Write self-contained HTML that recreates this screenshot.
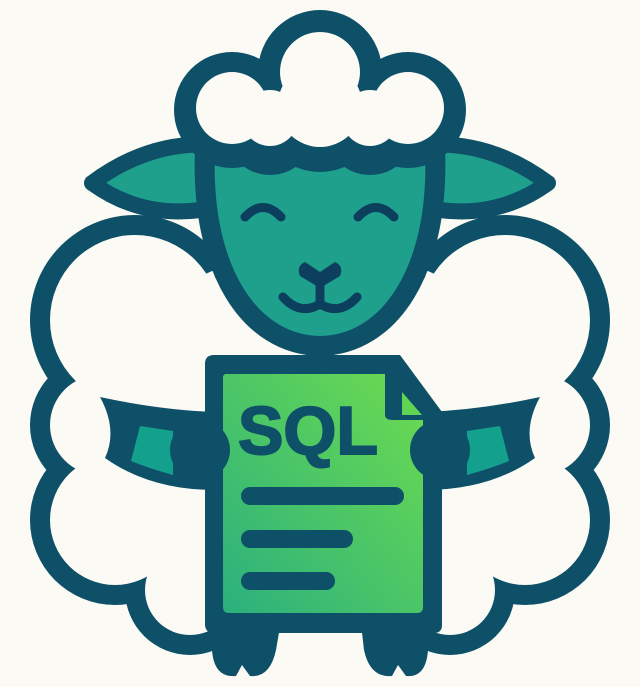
<!DOCTYPE html>
<html><head><style>html,body{margin:0;padding:0;background:#fbfaf5;}svg{display:block}</style></head>
<body>
<svg width="640" height="687" viewBox="0 0 640 687" xmlns="http://www.w3.org/2000/svg">
<defs>
<linearGradient id="g" x1="1" y1="0" x2="0" y2="1">
<stop offset="0" stop-color="#6ddc4f"/><stop offset="1" stop-color="#2bb07e"/></linearGradient>
</defs>
<rect width="640" height="687" fill="#fbfaf5"/>
<!-- legs -->
<g fill="#0e5068">
<path d="M212,615 L282,615 L276,650 Q270,678 250,676 L242,665 L236,676 Q214,678 212,650 Z"/>
<path d="M360,615 L430,615 L428,650 Q426,678 406,676 L398,665 L392,676 Q370,678 364,650 Z"/>
</g>
<!-- body cloud -->
<g fill="#0e5068">
<circle cx="135" cy="320" r="105"/><circle cx="100" cy="425" r="70"/><circle cx="115" cy="520" r="85"/><circle cx="190" cy="590" r="65"/>
<circle cx="505" cy="320" r="105"/><circle cx="540" cy="425" r="70"/><circle cx="525" cy="520" r="85"/><circle cx="450" cy="590" r="65"/>
<ellipse cx="320" cy="430" rx="250" ry="200"/>
</g>
<g fill="#fbfaf5">
<circle cx="135" cy="320" r="85"/><circle cx="100" cy="425" r="50"/><circle cx="115" cy="520" r="65"/><circle cx="190" cy="590" r="45"/>
<circle cx="505" cy="320" r="85"/><circle cx="540" cy="425" r="50"/><circle cx="525" cy="520" r="65"/><circle cx="450" cy="590" r="45"/>
<ellipse cx="320" cy="430" rx="230" ry="180"/>
</g>
<!-- ears -->
<path d="M92,183 Q150,140 215,145 L225,205 Q150,225 92,183 Z" fill="#1fa08c" stroke="#0e5068" stroke-width="16" stroke-linejoin="round"/>
<path d="M548,183 Q490,140 425,145 L415,205 Q490,225 548,183 Z" fill="#1fa08c" stroke="#0e5068" stroke-width="16" stroke-linejoin="round"/>
<!-- face -->
<path d="M205,150 C200,270 250,345 320,346 C390,345 440,270 435,150 Z" fill="#1fa08c" stroke="#0e5068" stroke-width="20" stroke-linejoin="round"/>
<!-- head wool -->
<g fill="#0e5068">
<circle cx="232" cy="110" r="58"/><circle cx="320" cy="72" r="62"/><circle cx="408" cy="110" r="58"/><circle cx="320" cy="110" r="62"/>
<circle cx="270" cy="130" r="45"/><circle cx="370" cy="130" r="45"/>
</g>
<g fill="#fbfaf5">
<circle cx="232" cy="108" r="36"/><circle cx="320" cy="72" r="40"/><circle cx="408" cy="108" r="36"/><circle cx="320" cy="105" r="42"/>
<circle cx="270" cy="118" r="28"/><circle cx="370" cy="118" r="28"/>
</g>
<!-- features -->
<g fill="none" stroke="#0c3f5e" stroke-width="9" stroke-linecap="round">
<path d="M245,217 Q263,198 281,217"/><path d="M358,217 Q376,198 394,217"/>
<path d="M283,297 Q300,316 320,304 Q340,316 357,297"/>
<path d="M320,280 L320,304"/>
</g>
<path d="M320,272 L305,262 Q296,266 300,276 L320,288 L340,276 Q344,266 335,262 Z" fill="#0c3f5e"/>
<!-- hands -->
<path d="M100,397 Q160,410 215,412 L215,490 Q150,490 105,458 Q118,430 100,397 Z" fill="#0e5068"/>
<path d="M540,397 Q480,410 425,412 L425,490 Q490,490 535,458 Q522,430 540,397 Z" fill="#0e5068"/>
<path d="M140,448 L173,453 L173,497 Q148,490 131,483 Z" transform="translate(0,-22)" fill="#13a08c"/>
<path d="M500,448 L467,453 L467,497 Q492,490 509,483 Z" transform="translate(0,-22)" fill="#13a08c"/>
<!-- document -->
<path d="M214,355 L400,355 L442,412 L442,625 Q442,633 434,633 L214,633 Q205,633 205,624 L205,364 Q205,355 214,355 Z" fill="#0e5068"/>
<path d="M225,374 L385,374 L385,415 Q385,420 393,420 L423,420 L423,607 Q423,613 417,613 L229,613 Q223,613 223,607 L223,376 Z" fill="url(#g)"/>
<path d="M402,392 L422,415 L402,415 Z" fill="#5fd653"/>
<circle cx="200" cy="450" r="30" fill="#0e5068"/>
<circle cx="440" cy="450" r="30" fill="#0e5068"/>
<text x="238" y="454" font-family="Liberation Sans, sans-serif" font-weight="bold" font-size="68" fill="#0e5068" stroke="#0e5068" stroke-width="2" textLength="140" lengthAdjust="spacingAndGlyphs">SQL</text>
<g stroke="#0e5068" stroke-width="18" stroke-linecap="round">
<line x1="250" y1="496" x2="395" y2="496"/>
<line x1="250" y1="539" x2="344" y2="539"/>
<line x1="250" y1="581" x2="326" y2="581"/>
</g>
</svg>
</body></html>
